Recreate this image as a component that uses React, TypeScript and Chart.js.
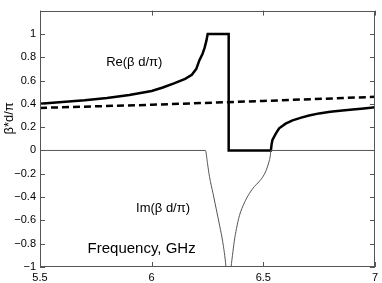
import React, { useEffect, useRef } from "react";
import { Chart, registerables } from "chart.js";

Chart.register(...registerables);

const reX = [5.5, 5.6, 5.7, 5.8, 5.9, 6.0, 6.05, 6.1, 6.15, 6.18, 6.2, 6.214, 6.228, 6.237, 6.245, 6.251, 6.345, 6.345, 6.534, 6.537, 6.541, 6.556, 6.571, 6.6, 6.631, 6.67, 6.705, 6.75, 6.8, 6.854, 6.9, 6.95, 7.0];
const reY = [0.40, 0.415, 0.43, 0.45, 0.475, 0.51, 0.54, 0.575, 0.615, 0.65, 0.7, 0.775, 0.83, 0.88, 0.94, 1.0, 1.0, 0, 0, 0.05, 0.09, 0.145, 0.19, 0.23, 0.258, 0.282, 0.3, 0.318, 0.332, 0.342, 0.352, 0.361, 0.37];

const dashX = [5.5, 6.0, 6.5, 7.0];
const dashY = [0.365, 0.392, 0.425, 0.46];

const imLeftX = [5.5, 6.241, 6.25, 6.259, 6.275, 6.289, 6.305, 6.318, 6.333, 6.345];
const imLeftY = [0, 0, -0.11, -0.225, -0.37, -0.5, -0.65, -0.78, -1.0, -1.3];
const imRightX = [6.345, 6.356, 6.362, 6.37, 6.38, 6.393, 6.415, 6.4375, 6.46, 6.48, 6.5, 6.515, 6.525, 6.531, 6.534, 7.0];
const imRightY = [-1.3, -1.0, -0.9, -0.78, -0.67, -0.56, -0.45, -0.37, -0.31, -0.27, -0.22, -0.16, -0.1, -0.05, 0, 0];

const xTicks = [5.5, 6, 6.5, 7];
const yTicks = [-1, -0.8, -0.6, -0.4, -0.2, 0, 0.2, 0.4, 0.6, 0.8, 1];

const labels = [
  { text: "Re(\u03b2 d/\u03c0)", x: 5.922, y: 0.758, size: 13 },
  { text: "Im(\u03b2 d/\u03c0)", x: 6.051, y: -0.5, size: 13 },
  { text: "Frequency, GHz", x: 5.955, y: -0.842, size: 15 },
];
const yTitle = "\u03b2*d/\u03c0";

const zip = (xs: number[], ys: number[]) => xs.map((x, i) => ({ x, y: ys[i] }));
const fmt = (v: number) => {
  const r = Math.round(v * 10) / 10;
  return String(r).replace("-", "\u2212");
};

const FONT = "'Liberation Sans', Arial, Helvetica, sans-serif";

const framePlugin = {
  id: "frame",
  afterDatasetsDraw(chart: any) {
    const { ctx, chartArea: a, scales } = chart;
    const xs = scales.x;
    const ys = scales.y;
    ctx.save();
    ctx.strokeStyle = "#555";
    ctx.lineWidth = 1;
    const L = 5;
    ctx.beginPath();
    for (const v of yTicks) {
      const p = Math.round(ys.getPixelForValue(v)) + 0.5;
      ctx.moveTo(a.left, p);
      ctx.lineTo(a.left + L, p);
      ctx.moveTo(a.right, p);
      ctx.lineTo(a.right - L, p);
    }
    for (const v of xTicks) {
      const p = Math.round(xs.getPixelForValue(v)) + 0.5;
      ctx.moveTo(p, a.bottom);
      ctx.lineTo(p, a.bottom - L);
      ctx.moveTo(p, a.top);
      ctx.lineTo(p, a.top + L);
    }
    ctx.stroke();
    ctx.strokeRect(Math.round(a.left) + 0.5, Math.round(a.top) + 0.5, Math.round(a.right - a.left) - 1, Math.round(a.bottom - a.top) - 1);
    ctx.fillStyle = "#000";
    ctx.textAlign = "center";
    ctx.textBaseline = "middle";
    for (const l of labels) {
      ctx.font = `${l.size}px ${FONT}`;
      ctx.fillText(l.text, xs.getPixelForValue(l.x), ys.getPixelForValue(l.y));
    }
    ctx.translate(a.left - 31, ys.getPixelForValue(0.275));
    ctx.rotate(-Math.PI / 2);
    ctx.font = `13px ${FONT}`;
    ctx.fillText(yTitle, 0, 0);
    ctx.restore();
  },
};

export default function App() {
  const ref = useRef<HTMLCanvasElement>(null);
  useEffect(() => {
    if (!ref.current) return;
    const chart = new Chart(ref.current, {
      type: "line",
      data: {
        datasets: [
          {
            data: zip(imLeftX, imLeftY),
            borderColor: "#555",
            borderWidth: 1,
            pointRadius: 0,
            cubicInterpolationMode: "monotone",
          },
          {
            data: zip(imRightX, imRightY),
            borderColor: "#555",
            borderWidth: 1,
            pointRadius: 0,
            cubicInterpolationMode: "monotone",
          },
          {
            data: zip(dashX, dashY),
            borderColor: "#000",
            borderWidth: 2.5,
            borderDash: [7, 4],
            pointRadius: 0,
            tension: 0,
          },
          {
            data: zip(reX, reY),
            borderColor: "#000",
            borderWidth: 2.5,
            pointRadius: 0,
            tension: 0,
          },
        ],
      },
      options: {
        animation: false,
        responsive: true,
        maintainAspectRatio: false,
        layout: { padding: { left: 0, right: 6, top: 2, bottom: 0 } },
        plugins: { legend: { display: false }, tooltip: { enabled: false } },
        scales: {
          x: {
            type: "linear",
            min: 5.5,
            max: 7,
            afterBuildTicks: (s: any) => {
              s.ticks = xTicks.map((v) => ({ value: v }));
            },
            afterFit: (s: any) => {
              s.height = 16;
            },
            grid: { display: false, drawTicks: false },
            border: { display: false },
            ticks: {
              color: "#000",
              font: { family: FONT, size: 11 },
              padding: 4,
              maxRotation: 0,
              callback: (v: any) => String(v),
            },
          },
          y: {
            type: "linear",
            min: -1,
            max: 1.2,
            afterBuildTicks: (s: any) => {
              s.ticks = yTicks.map((v) => ({ value: v }));
            },
            afterFit: (s: any) => {
              s.width = 40;
            },
            grid: { display: false, drawTicks: false },
            border: { display: false },
            ticks: {
              color: "#000",
              font: { family: FONT, size: 11 },
              padding: 4,
              callback: (v: any) => fmt(Number(v)),
            },
          },
        },
      },
      plugins: [framePlugin],
    } as any);
    return () => chart.destroy();
  }, []);
  return (
    <div style={{ position: "fixed", left: 0, top: 0, width: 382, height: 283, background: "#fff" }}>
      <canvas ref={ref} />
    </div>
  );
}
